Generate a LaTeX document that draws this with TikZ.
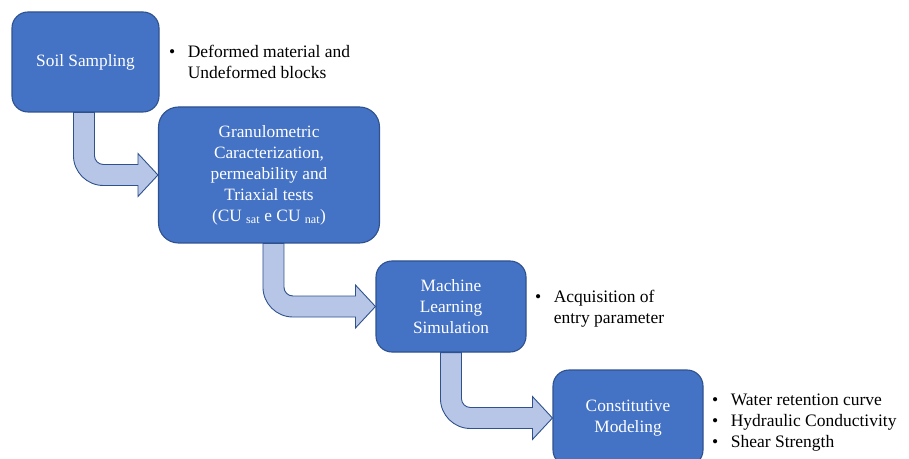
\documentclass[tikz,border=0pt]{standalone}
\usepackage{fontspec}
\setmainfont{Liberation Serif}
\usetikzlibrary{calc,backgrounds}
\definecolor{boxfill}{RGB}{68,114,196}
\definecolor{boxline}{RGB}{47,82,143}
\definecolor{arrfill}{RGB}{183,198,230}
\tikzset{
  stepbox/.style={draw=boxline, line width=1.1pt, fill=boxfill, rounded corners=#1,
    text=white, align=center, inner sep=0pt,
    font=\fontsize{17.3}{21}\selectfont},
  stepbox/.default=16pt,
  notes/.style={anchor=west, inner sep=0pt, font=\fontsize{17.5}{21}\selectfont},
  blockarrow/.style={draw=boxline, line width=0.9pt, fill=arrfill, line join=miter}
}
% #1 from node, #2 to node, #3 shaft offset from #1 south west
\newcommand{\bentarrow}[3]{%
  \path[blockarrow] let \p1=(#1.south west), \p2=(#2.west) in
    ({\x1+#3}, \y1)
    -- ({\x1+#3}, {\y2-10.5pt+30pt})
    arc[start angle=180, end angle=270, radius=30pt]
    -- ({\x2-20pt}, {\y2-10.5pt})
    -- ({\x2-20pt}, {\y2-21.5pt})
    -- (\x2, \y2)
    -- ({\x2-20pt}, {\y2+21.5pt})
    -- ({\x2-20pt}, {\y2+10.5pt})
    -- ({\x1+#3+21pt+9pt}, {\y2+10.5pt})
    arc[start angle=270, end angle=180, radius=9pt]
    -- ({\x1+#3+21pt}, \y1) -- cycle;}
\newcommand{\bul}{\textbullet}
\begin{document}
\begin{tikzpicture}[x=1pt,y=1pt]
\useasboundingbox (0,0) rectangle (909,458);
\clip (0,0) rectangle (909,458);
% boxes (y = 458 - pixel y)
\node[stepbox, minimum width=147pt, minimum height=100pt] (b1) at (85.5,396) {Soil Sampling};
\node[stepbox=20pt, minimum width=221pt, minimum height=136pt] (b2) at (269,283)
  {Granulometric\\Caracterization,\\permeability and\\Triaxial tests\\(CU \textsubscript{sat} e CU \textsubscript{nat})};
\node[stepbox, minimum width=150pt, minimum height=91pt] (b3) at (451,151.5)
  {Machine\\Learning\\Simulation};
\node[stepbox, minimum width=150pt, minimum height=96pt] (b4) at (628,40)
  {Constitutive\\Modeling};
% notes
\node[notes] (t1) at (169,394.5) {\begin{tabular}{@{}l@{\hspace{12.5pt}}l@{}}\bul & Deformed material and\\ & Undeformed blocks\end{tabular}};
\node[notes] (t3) at (535,149) {\begin{tabular}{@{}l@{\hspace{12.5pt}}l@{}}\bul & Acquisition of\\ & entry parameter\end{tabular}};
\node[notes] (t4) at (712,35.5) {\begin{tabular}{@{}l@{\hspace{12.5pt}}l@{}}\bul & Water retention curve\\ \bul & Hydraulic Conductivity\\ \bul & Shear Strength\end{tabular}};
% bent block arrows
\begin{scope}[on background layer]
\bentarrow{b1}{b2}{62pt}
\bentarrow{b2}{b3}{105pt}
\bentarrow{b3}{b4}{65pt}
\end{scope}
\end{tikzpicture}
\end{document}
